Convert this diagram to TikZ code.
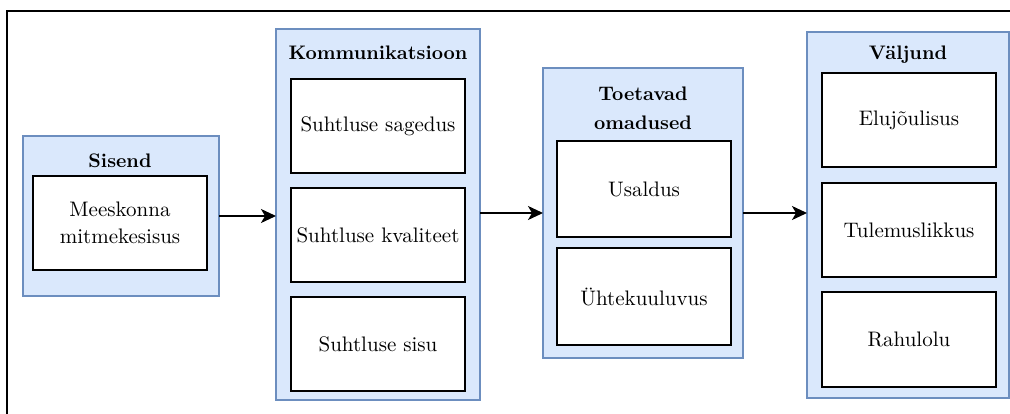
\documentclass[tikz,border=0pt]{standalone}
\usepackage{fontspec}
\setmainfont{lmroman10}[Extension=.otf, UprightFont=*-regular, BoldFont=*-bold]
\usetikzlibrary{arrows.meta}
\definecolor{grpfill}{HTML}{DAE8FC}
\definecolor{grpline}{HTML}{6C8EBF}
\tikzset{
  group/.style={draw=grpline, fill=grpfill, line width=1.6pt, inner sep=0pt, outer sep=0pt},
  item/.style={draw=black, fill=white, line width=1.8pt, inner sep=0pt, outer sep=0pt,
    minimum width=174pt, align=center, font=\fontsize{21}{27}\selectfont},
  heading/.style={inner sep=0pt, align=center, font=\fontsize{19.6}{29}\selectfont\bfseries},
  flow/.style={line width=1.6pt, -{Stealth[length=15pt,width=14pt,inset=4pt]}}
}
\begin{document}
\begin{tikzpicture}[x=1pt,y=-1pt]
\useasboundingbox (0,0) rectangle (1010,413);
% page frame, running off the right and lower edges
\draw[line width=1.8pt] (7,11) rectangle (1030,430);

% input
\node[group, minimum width=196pt, minimum height=160pt] (sis) at (121,216) {};
\node[heading] (sisT) at (120,161) {Sisend};
\node[item, minimum height=94pt] (mees) at (120,223) {Meeskonna\\mitmekesisus};

% communication
\node[group, minimum width=204pt, minimum height=371pt] (komm) at (378,214.5) {};
\node[heading] (kommT) at (378,53) {Kommunikatsioon};
\node[item, minimum height=94pt] (sag) at (378,126) {Suhtluse sagedus};
\node[item, minimum height=94pt] (kva) at (378,235) {Suhtluse kvaliteet};
\node[item, minimum height=94pt] (sisu) at (378,344) {Suhtluse sisu};

% supporting properties
\node[group, minimum width=200pt, minimum height=290pt] (toet) at (643,213) {};
\node[heading] (toetT) at (643,108) {Toetavad\\omadused};
\node[item, minimum height=96pt] (usal) at (644,189) {Usaldus};
\node[item, minimum height=97pt] (yht) at (644,296.5) {Ühtekuuluvus};

% output
\node[group, minimum width=202pt, minimum height=366pt] (val) at (908,215) {};
\node[heading] (valT) at (908,55) {Väljund};
\node[item, minimum height=94pt] (elu) at (909,120) {Elujõulisus};
\node[item, minimum height=94pt] (tul) at (909,230) {Tulemuslikkus};
\node[item, minimum height=95pt] (rah) at (909,339.5) {Rahulolu};

% flow between stages
\draw[flow] (sis.east) -- (sis.east -| komm.west);
\draw[flow] ([yshift=1.5pt]komm.east) -- ([yshift=1.5pt]komm.east -| toet.west);
\draw[flow] (toet.east) -- (toet.east -| val.west);
\end{tikzpicture}
\end{document}
